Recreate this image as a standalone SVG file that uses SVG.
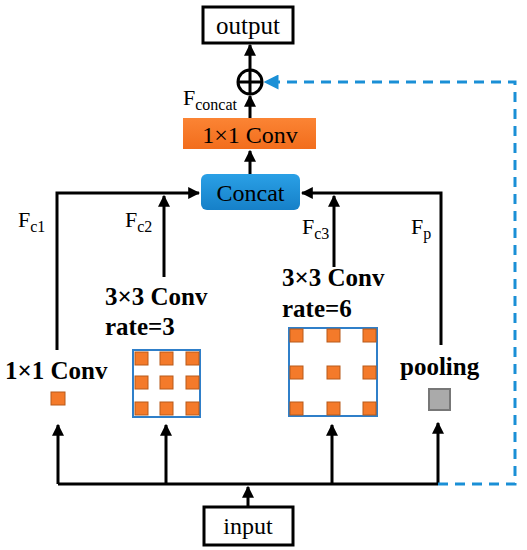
<svg xmlns="http://www.w3.org/2000/svg" width="527" height="550" viewBox="0 0 527 550">
<style>
.t{font-family:"Liberation Serif","Times New Roman",serif;fill:#000}
.b{font-family:"Liberation Serif","Times New Roman",serif;font-weight:bold;fill:#000;font-size:25px}
.ln{stroke:#000;stroke-width:3;fill:none}
.box{fill:#fff;stroke:#000;stroke-width:3}
.dot{fill:#f47a2a;stroke:#b85a1a;stroke-width:1}
.grid{fill:#fff;stroke:#2f7fc9;stroke-width:2}
.f{font-size:22px}
.s{font-size:16px}
</style>
<defs>
<marker id="ah" viewBox="0 0 10 10" refX="9" refY="5" markerWidth="4" markerHeight="4" orient="auto" markerUnits="strokeWidth"><path d="M0,0 L10,5 L0,10 z" fill="#000"/></marker>
<marker id="bh" viewBox="0 0 10 10" refX="9" refY="5" markerWidth="5" markerHeight="5" orient="auto" markerUnits="strokeWidth"><path d="M0,0 L10,5 L0,10 z" fill="#1a8fd6"/></marker>
<linearGradient id="cg" x1="0" y1="0" x2="0" y2="1"><stop offset="0" stop-color="#2aa0e6"/><stop offset="1" stop-color="#1680c8"/></linearGradient>
<linearGradient id="og" x1="0" y1="0" x2="0" y2="1"><stop offset="0" stop-color="#fb8434"/><stop offset="1" stop-color="#f26d1c"/></linearGradient>
</defs>
<g id="connectors">
<path class="ln" d="M57,350 V193 H199" marker-end="url(#ah)"/>
<path class="ln" d="M441,345 V193 H302" marker-end="url(#ah)"/>
<path class="ln" d="M164,277 V196" marker-end="url(#ah)"/>
<path class="ln" d="M334,267 V196" marker-end="url(#ah)"/>
<path class="ln" d="M250,174 V151" marker-end="url(#ah)"/>
<path class="ln" d="M250,118 V96" marker-end="url(#ah)"/>
<path class="ln" d="M250,70 V45" marker-end="url(#ah)"/>
<path class="ln" d="M58,484 H438"/>
<path class="ln" d="M58,484 V425" marker-end="url(#ah)"/>
<path class="ln" d="M166,484 V425" marker-end="url(#ah)"/>
<path class="ln" d="M332,484 V425" marker-end="url(#ah)"/>
<path class="ln" d="M438,484 V423" marker-end="url(#ah)"/>
<path class="ln" d="M248,507 V487" marker-end="url(#ah)"/>
<path d="M438,484 H515 V82 H265" fill="none" stroke="#1a8fd6" stroke-width="3" stroke-dasharray="10,7" marker-end="url(#bh)"/>
</g>
<g id="output"><rect class="box" x="203" y="7" width="90" height="36"/><text class="t" x="248" y="34" font-size="25" text-anchor="middle">output</text></g>
<g id="sum"><circle cx="250" cy="82" r="12" fill="none" stroke="#000" stroke-width="3"/><path d="M238,82 H262 M250,70 V94" stroke="#000" stroke-width="3"/></g>
<g id="fconcat-label"><text class="t f" x="183" y="105">F<tspan class="s" dy="5">concat</tspan></text></g>
<g id="conv1x1-top"><rect x="183" y="118" width="133" height="31" fill="url(#og)"/><text class="t" x="250" y="143" font-size="24" text-anchor="middle">1×1 Conv</text></g>
<g id="concat"><rect x="201" y="174" width="99" height="36" rx="6" fill="url(#cg)"/><text class="t" x="250.5" y="201" font-size="24" text-anchor="middle" fill="#0a1a2a">Concat</text></g>
<g id="labels">
<text class="t f" x="18" y="227">F<tspan class="s" dy="5">c1</tspan></text>
<text class="t f" x="125" y="227">F<tspan class="s" dy="5">c2</tspan></text>
<text class="t f" x="302" y="234">F<tspan class="s" dy="5">c3</tspan></text>
<text class="t f" x="411" y="234">F<tspan class="s" dy="5">p</tspan></text>
</g>
<g id="branch1">
<text class="b" x="5" y="379">1×1 Conv</text>
<rect class="dot" x="51" y="392" width="14" height="13" stroke="#2f7fc9" stroke-width="1.5"/>
</g>
<g id="branch2">
<text class="b" x="105" y="305">3×3 Conv</text>
<text class="b" x="105" y="335">rate=3</text>
<rect class="grid" x="133" y="350" width="67" height="67"/>
<rect class="dot" x="135" y="352" width="13" height="13"/><rect class="dot" x="160" y="352" width="13" height="13"/><rect class="dot" x="186" y="352" width="13" height="13"/>
<rect class="dot" x="135" y="376" width="13" height="13"/><rect class="dot" x="160" y="376" width="13" height="13"/><rect class="dot" x="186" y="376" width="13" height="13"/>
<rect class="dot" x="135" y="402" width="13" height="13"/><rect class="dot" x="160" y="402" width="13" height="13"/><rect class="dot" x="186" y="402" width="13" height="13"/>
</g>
<g id="branch3">
<text class="b" x="282" y="286">3×3 Conv</text>
<text class="b" x="282" y="317">rate=6</text>
<rect class="grid" x="289" y="328" width="88" height="88"/>
<rect class="dot" x="290" y="329" width="13" height="13"/><rect class="dot" x="327" y="329" width="13" height="13"/><rect class="dot" x="363" y="329" width="13" height="13"/>
<rect class="dot" x="290" y="366" width="13" height="13"/><rect class="dot" x="327" y="366" width="13" height="13"/><rect class="dot" x="363" y="366" width="13" height="13"/>
<rect class="dot" x="290" y="402" width="13" height="13"/><rect class="dot" x="327" y="402" width="13" height="13"/><rect class="dot" x="363" y="402" width="13" height="13"/>
</g>
<g id="branch4">
<text class="b" x="400" y="375">pooling</text>
<rect x="429" y="389" width="21" height="21" fill="#aaa" stroke="#777" stroke-width="2"/>
</g>
<g id="input"><rect class="box" x="204" y="507" width="89" height="38"/><text class="t" x="248" y="534" font-size="24" text-anchor="middle">input</text></g>
</svg>
